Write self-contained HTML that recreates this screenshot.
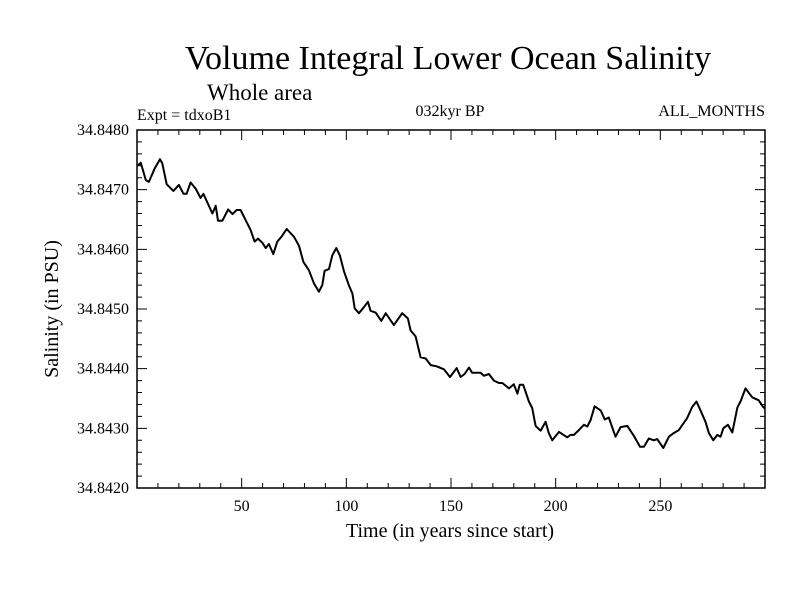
<!DOCTYPE html>
<html><head><meta charset="utf-8"><style>
body{margin:0;background:#fff;}
svg{display:block;font-family:"Liberation Serif",serif;}
</style></head><body>
<svg id="chart" width="800" height="600" xmlns="http://www.w3.org/2000/svg">
<text x="448" y="69" font-size="34" text-anchor="middle">Volume Integral Lower Ocean Salinity</text>
<text x="207" y="100" font-size="23">Whole area</text>
<text x="137" y="120" font-size="16">Expt = tdxoB1</text>
<text x="450" y="116" font-size="16" text-anchor="middle">032kyr BP</text>
<text x="765" y="116" font-size="16" text-anchor="end">ALL_MONTHS</text>
<text x="450" y="537" font-size="20" text-anchor="middle">Time (in years since start)</text>
<text transform="translate(58,309) rotate(-90)" font-size="20" text-anchor="middle">Salinity (in PSU)</text>
<g id="axes"></g>
<path id="line" fill="none" stroke="#000" stroke-width="2" stroke-linejoin="round"/>
<rect x="137" y="130" width="628" height="358" fill="none" stroke="#000" stroke-width="1.5"/>
</svg>
<script>
const years=[0.5,1.8,4.2,5.7,8.5,11,12.1,14.2,17.4,20,22.2,23.7,25.6,28,30.4,31.7,36,37.6,38.7,40.8,43.5,45.6,47.6,49.5,51.9,54.3,56.2,57.8,59.9,61.5,63,65.1,67,69,71.5,75,77.4,79.5,82.1,84.5,86.9,88.5,89.6,91.7,93.3,95.2,96.9,98.9,101.2,102.9,104,106,108.4,110.3,111.6,114,116.7,118.8,122.7,126.7,129.4,130.7,133.1,135.5,137.9,140.3,143.1,146.6,149.5,152.7,154.6,156.5,158.6,160.1,164.1,165.7,168.1,170.5,172.9,174.5,177.7,180,181.7,182.8,184.5,187.2,188.8,190.4,192.8,195.2,196.7,198.4,201.6,205.5,207.1,208.7,211.1,213.5,215.1,216.7,218.6,221.5,223.4,225.4,228.6,231,234.2,237.4,240.3,242.2,244.5,246.9,248.5,251.4,254.1,256.4,258.8,262.8,265.2,267.3,269.2,271.6,273.2,275.3,277.2,278.8,280.1,282.3,284.4,286.8,288.3,290.7,293.9,297,299.1,300];
const salinity=[34.84741,34.84745,34.84716,34.84713,34.84736,34.84751,34.84744,34.84709,34.84698,34.84708,34.84693,34.84693,34.84712,34.84702,34.84686,34.84693,34.8466,34.84673,34.84648,34.84648,34.84667,34.84659,34.84666,34.84666,34.84649,34.84632,34.84613,34.84618,34.84611,34.84602,34.84609,34.84592,34.84613,34.84621,34.84634,34.84621,34.84606,34.84579,34.84565,34.84543,34.84529,34.8454,34.84564,34.84567,34.8459,34.84602,34.8459,34.84563,34.8454,34.84526,34.84501,34.84493,34.84503,34.84512,34.84497,34.84494,34.8448,34.84493,34.84473,34.84493,34.84484,34.84464,34.84454,34.84419,34.84417,34.84406,34.84404,34.84399,34.84386,34.84401,34.84386,34.84391,34.84402,34.84393,34.84393,34.84388,34.84391,34.8438,34.84376,34.84376,34.84367,34.84374,34.84358,34.84373,34.84373,34.84345,34.84334,34.84304,34.84296,34.84311,34.84292,34.8428,34.84294,34.84285,34.84289,34.84289,34.84297,34.84306,34.84303,34.84314,34.84337,34.8433,34.84315,34.84318,34.84286,34.84302,34.84304,34.84287,34.84269,34.84269,34.84283,34.8428,34.84282,34.84267,34.84286,34.84292,34.84297,34.84317,34.84336,34.84345,34.8433,34.84311,34.84292,34.8428,34.84289,34.84286,34.843,34.84306,34.84293,34.84335,34.84345,34.84367,34.84352,34.84347,34.84336,34.84333];
const xTicks=[50,100,150,200,250];
const yTicks=[34.8420,34.8430,34.8440,34.8450,34.8460,34.8470,34.8480];
const X0=137,X1=765,Y0=488,Y1=130,XMIN=0,XMAX=300,YMIN=34.842,YMAX=34.848;
const sx=v=>X0+(v-XMIN)/(XMAX-XMIN)*(X1-X0);
const sy=v=>Y0-(v-YMIN)/(YMAX-YMIN)*(Y0-Y1);
const NS="http://www.w3.org/2000/svg";
const ax=document.getElementById('axes');
let d='';
for(let t=10;t<300;t+=10){const big=t%50===0;const L=big?10:5;const x=sx(t);d+=`M${x},${Y0}v${-L}M${x},${Y1}v${L}`;}
for(let i=1;i<30;i++){const v=YMIN+i*0.0002;const big=i%5===0;const L=big?10:5;const y=sy(v);d+=`M${X0},${y}h${L}M${X1},${y}h${-L}`;}
const tk=document.createElementNS(NS,'path');
tk.setAttribute('d',d);tk.setAttribute('stroke','#000');tk.setAttribute('stroke-width','1');


ax.appendChild(tk);
xTicks.forEach(t=>{const e=document.createElementNS(NS,'text');e.setAttribute('x',sx(t));e.setAttribute('y',511);e.setAttribute('font-size','16');e.setAttribute('text-anchor','middle');e.textContent=t;


ax.appendChild(e);});
yTicks.forEach(t=>{const e=document.createElementNS(NS,'text');e.setAttribute('x',129);e.setAttribute('y',sy(t)+5);e.setAttribute('font-size','16');e.setAttribute('text-anchor','end');e.textContent=t.toFixed(4);


ax.appendChild(e);});
document.getElementById('line').setAttribute('d',years.map((y,i)=>(i?'L':'M')+sx(y).toFixed(1)+','+sy(salinity[i]).toFixed(1)).join(''));
</script>
</body></html>
